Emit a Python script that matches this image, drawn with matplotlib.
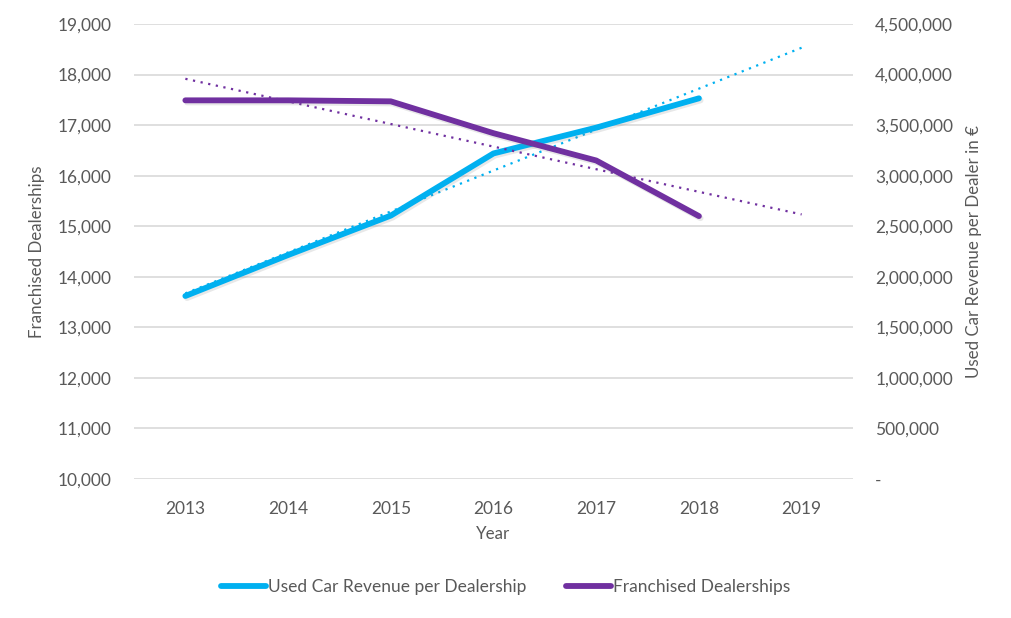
import matplotlib

matplotlib.use("Agg")
import matplotlib.pyplot as plt
import matplotlib.patheffects as pe
import numpy as np
from matplotlib.ticker import FuncFormatter, MultipleLocator

years = [2013, 2014, 2015, 2016, 2017, 2018]
trend_years = [2013, 2014, 2015, 2016, 2017, 2018, 2019]
franchised = [17490, 17490, 17470, 16840, 16300, 15200]
revenue = [1810000, 2215000, 2605000, 3220000, 3475000, 3765000]

BLUE = "#00B0F0"
PURPLE = "#7030A0"
TEXT = "#595959"
GRID = "#D9D9D9"

plt.rcParams["font.family"] = ["Lato", "DejaVu Sans"]
plt.rcParams["font.size"] = 12.5

fig = plt.figure(figsize=(10.11, 6.18), dpi=100)
ax2 = fig.add_axes([134 / 1011, 1 - 479 / 618, 719 / 1011, 455 / 618])
ax = ax2.twinx()
ax.yaxis.tick_left()
ax.yaxis.set_label_position("left")
ax2.yaxis.tick_right()
ax2.yaxis.set_label_position("right")
ax.set_zorder(ax2.get_zorder() + 1)
ax.patch.set_visible(False)

x = np.arange(len(years))
xt = np.arange(len(trend_years))
shadow = [pe.SimpleLineShadow(offset=(1.2, -1.5), shadow_color="#808080", alpha=0.18), pe.Normal()]

# linear trendlines, forecast one period forward
b_fit = np.polyfit(x, revenue, 1)
p_fit = np.polyfit(x, franchised, 1)
ax2.plot(xt, np.polyval(b_fit, xt), color=BLUE, lw=1.6, linestyle=(0, (1, 2.5)), zorder=2)
ax.plot(xt, np.polyval(p_fit, xt), color=PURPLE, lw=1.6, linestyle=(0, (1, 2.5)), zorder=2)

ax2.plot(x, revenue, color=BLUE, lw=4.2, solid_capstyle="round", path_effects=shadow, zorder=3,
         label="Used Car Revenue per Dealership")
ax.plot(x, franchised, color=PURPLE, lw=4.2, solid_capstyle="round", path_effects=shadow, zorder=3,
        label="Franchised Dealerships")

ax2.set_xlim(-0.5, len(trend_years) - 0.5)
ax.set_ylim(10000, 19000)
ax2.set_ylim(0, 4500000)
ax.yaxis.set_major_locator(MultipleLocator(1000))
ax2.yaxis.set_major_locator(MultipleLocator(500000))
ax.yaxis.set_major_formatter(FuncFormatter(lambda v, p: f"{v:,.0f}"))
ax2.yaxis.set_major_formatter(FuncFormatter(lambda v, p: "-" if v == 0 else f"{v:,.0f}"))
ax2.set_xticks(xt)
ax2.set_xticklabels([str(y) for y in trend_years])
ax.tick_params(axis="x", labelbottom=False, bottom=False)

ax2.grid(axis="y", color=GRID, lw=1.2)
ax2.set_axisbelow(True)
for a in (ax, ax2):
    for s in a.spines.values():
        s.set_visible(False)
    a.tick_params(length=0, colors=TEXT, labelsize=12.5)
ax.tick_params(axis="y", pad=16)
ax2.tick_params(axis="y", pad=16)
ax2.tick_params(axis="x", pad=16)

ax.set_ylabel("Franchised Dealerships", color=TEXT, fontsize=12.2, labelpad=9)
ax2.set_ylabel("Used Car Revenue per Dealer in €", color=TEXT, fontsize=12.2, labelpad=9)
ax2.set_xlabel("Year", color=TEXT, fontsize=12.2, labelpad=6)

handles = ax2.get_lines()[1:2] + ax.get_lines()[1:2]
leg = fig.legend(handles=handles, labels=[h.get_label() for h in handles], loc="center",
                 bbox_to_anchor=(0.5, 1 - 587 / 618), ncol=2, frameon=False,
                 handlelength=2.6, handletextpad=0.1, columnspacing=2.3, fontsize=12.5)
for t in leg.get_texts():
    t.set_color(TEXT)
for h in leg.legend_handles:
    h.set_path_effects([])

fig.savefig("out.png", dpi=100)
